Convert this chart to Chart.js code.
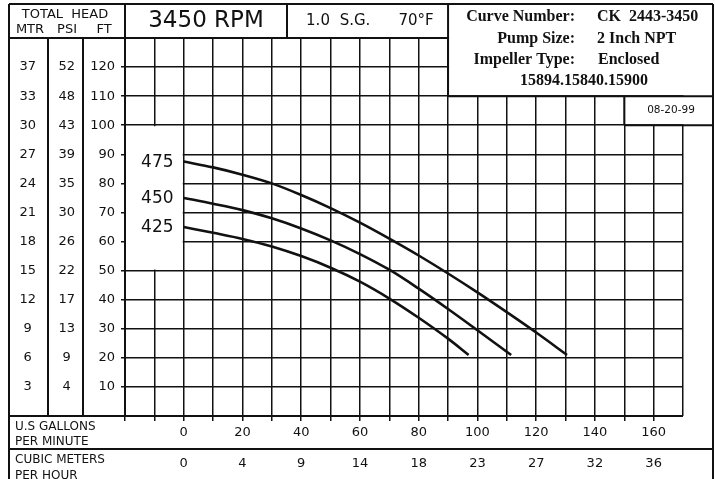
<!DOCTYPE html>
<html>
<head>
<meta charset="utf-8">
<script src="https://cdn.jsdelivr.net/npm/chart.js@4"></script>
<style>
  html, body { margin: 0; padding: 0; background: #fff; }
  #wrap { width: 715px; height: 479px; }
</style>
</head>
<body>
<div id="wrap"><canvas id="pump-canvas"></canvas></div>
<script>
// impeller curves, flow in US GPM and head in feet
const gpm475 = [0, 10, 20, 30, 40, 50, 60, 70, 80, 90, 100, 110, 120, 130.5];
const head475 = [87.5, 85.5, 83, 80, 76, 71.5, 66.5, 61, 55.2, 49, 42.5, 35.7, 28.7, 21];
const gpm450 = [0, 10, 20, 30, 40, 50, 60, 70, 80, 90, 100, 111.5];
const head450 = [75, 73, 70.8, 68, 64.5, 60.4, 55.7, 50.3, 43.8, 36.8, 29.5, 21];
const gpm425 = [0, 10, 20, 30, 40, 50, 60, 70, 80, 90, 97];
const head425 = [65, 63, 60.9, 58.3, 55, 51, 46.2, 40.4, 33.8, 26.6, 21];
const curveNames = ['475', '450', '425'];

// axis tick labels
const ftTicks = [10, 20, 30, 40, 50, 60, 70, 80, 90, 100, 110, 120];
const psiTicks = [4, 9, 13, 17, 22, 26, 30, 35, 39, 43, 48, 52];
const mtrTicks = [3, 6, 9, 12, 15, 18, 21, 24, 27, 30, 33, 37];
const gpmTicks = [0, 20, 40, 60, 80, 100, 120, 140, 160];
const m3hTicks = [0, 4, 9, 14, 18, 23, 27, 32, 36];

const INK = '#111';
Chart.defaults.font.family = 'DejaVu Sans';
Chart.defaults.color = INK;

function toPoints(xs, ys) {
    return xs.map((x, i) => ({ x: x, y: ys[i] }));
}

function curve(label, xs, ys) {
    return {
        label: label,
        data: toPoints(xs, ys),
        borderColor: INK,
        borderWidth: 2.6,
        pointRadius: 0,
        fill: false,
        cubicInterpolationMode: 'monotone',
        xAxisID: 'x',
        yAxisID: 'yFt'
    };
}

function line(ctx, x1, y1, x2, y2) {
    ctx.beginPath();
    ctx.moveTo(x1, y1);
    ctx.lineTo(x2, y2);
    ctx.stroke();
}

function headAxis(labels, width, weight, padding, withGrid) {
    return {
        type: 'linear',
        position: 'left',
        weight: weight,
        min: 0,
        max: 130,
        afterFit: s => { s.width = width; },
        border: { display: false },
        grid: withGrid
            ? { color: INK, lineWidth: 1.5, drawTicks: true, tickLength: 4, tickColor: INK, tickWidth: 1.5 }
            : { display: false, drawTicks: false },
        ticks: {
            stepSize: 10,
            autoSkip: false,
            padding: padding,
            crossAlign: withGrid ? 'near' : 'center',
            font: { size: 13 },
            callback: v => {
                const i = ftTicks.indexOf(v);
                return i < 0 ? '' : String(labels[i]);
            }
        }
    };
}

// frame, header and info boxes of the curve sheet
const sheetPlugin = {
    id: 'pumpSheet',
    beforeDatasetsDraw(chart) {
        const { ctx, scales: { x, yFt } } = chart;
        ctx.save();
        ctx.fillStyle = '#fff';
        // label box left of the 0 gpm line
        const bx0 = x.getPixelForValue(-20), bx1 = x.getPixelForValue(0);
        const by0 = yFt.getPixelForValue(100), by1 = yFt.getPixelForValue(50);
        ctx.fillRect(bx0 + 1, by0 + 1, bx1 - bx0 - 2, by1 - by0 - 2);
        // info box and date box
        const ix = x.getPixelForValue(90), iy = yFt.getPixelForValue(110);
        ctx.fillRect(ix + 1, 0, 715 - ix, iy - 1);
        const dx = x.getPixelForValue(150), dy = yFt.getPixelForValue(100);
        ctx.fillRect(dx + 1, iy, 715 - dx, dy - iy - 1);
        ctx.restore();
    },
    afterDraw(chart) {
        const { ctx, chartArea: ca, scales: { x, yFt } } = chart;
        const ix = x.getPixelForValue(90), iy = yFt.getPixelForValue(110);
        const dx = x.getPixelForValue(150), dy = yFt.getPixelForValue(100);
        const R = 713, L = 9, T = 4;
        const rowSplit = 449;

        ctx.save();
        ctx.strokeStyle = INK;
        ctx.lineWidth = 2;
        line(ctx, L, T, R, T);
        line(ctx, L, T, L, 479);
        line(ctx, R, T, R, 479);
        line(ctx, L, ca.top, ix, ca.top);
        line(ctx, ca.left, T, ca.left, ca.bottom);
        line(ctx, 287, T, 287, ca.top);
        line(ctx, ix, T, ix, iy);
        line(ctx, ix, iy, R, iy);
        line(ctx, dx, iy, dx, dy);
        line(ctx, dx, dy, R, dy);
        line(ctx, 48, ca.top, 48, ca.bottom);
        line(ctx, 83, ca.top, 83, ca.bottom);
        line(ctx, L, ca.bottom, ca.right, ca.bottom);
        line(ctx, L, rowSplit, R, rowSplit);

        ctx.fillStyle = INK;
        ctx.textAlign = 'center';
        ctx.textBaseline = 'middle';
        ctx.font = '13px "DejaVu Sans"';
        ctx.fillText('TOTAL  HEAD', 65, 14.5);
        ctx.fillText('MTR', 30, 30);
        ctx.fillText('PSI', 67, 30);
        ctx.fillText('FT', 104, 30);

        ctx.font = '23px "DejaVu Sans"';
        ctx.fillText('3450 RPM', 206, 21.5);
        ctx.font = '15px "DejaVu Sans"';
        ctx.fillText('1.0', 318, 21);
        ctx.fillText('S.G.', 355, 21);
        ctx.fillText('70°F', 416, 21);

        ctx.font = '10.5px "DejaVu Sans"';
        ctx.fillText('08-20-99', 671, 110);

        // impeller diameters next to each curve
        ctx.font = '17px "DejaVu Sans"';
        [head475, head450, head425].forEach((h, i) => {
            ctx.fillText(curveNames[i], x.getPixelForValue(-9), yFt.getPixelForValue(h[0]) + 1);
        });

        // flow rows
        ctx.textAlign = 'left';
        ctx.font = '12px "DejaVu Sans"';
        ctx.fillText('U.S GALLONS', 15, 427);
        ctx.fillText('PER MINUTE', 15, 442);
        ctx.fillText('CUBIC METERS', 15, 460);
        ctx.fillText('PER HOUR', 15, 476);

        // info block
        ctx.font = 'bold 16px "Liberation Serif"';
        ctx.textBaseline = 'alphabetic';
        ctx.textAlign = 'right';
        ctx.fillText('Curve Number:', 575, 21);
        ctx.fillText('Pump Size:', 575, 42.5);
        ctx.fillText('Impeller Type:', 575, 64);
        ctx.textAlign = 'left';
        ctx.fillText('CK  2443-3450', 597, 21);
        ctx.fillText('2 Inch NPT', 597, 42.5);
        ctx.fillText('Enclosed', 598, 64);
        ctx.textAlign = 'center';
        ctx.fillText('15894.15840.15900', 584, 84.5);
        ctx.restore();
    }
};

const ctx = document.getElementById('pump-canvas').getContext('2d');

new Chart(ctx, {
    type: 'line',
    data: {
        datasets: [
            curve('475', gpm475, head475),
            curve('450', gpm450, head450),
            curve('425', gpm425, head425)
        ]
    },
    options: {
        responsive: true,
        maintainAspectRatio: false,
        animation: false,
        layout: { padding: { left: 9, top: 38, right: 32, bottom: 0 } },
        plugins: {
            legend: { display: false },
            tooltip: { enabled: false }
        },
        scales: {
            x: {
                type: 'linear',
                position: 'bottom',
                weight: 0,
                min: -20,
                max: 170,
                afterFit: s => { s.height = 33; },
                border: { display: false },
                grid: {
                    color: INK,
                    lineWidth: 1.5,
                    drawTicks: true,
                    tickLength: 5,
                    tickWidth: 1.5,
                    tickColor: c => (c.tick && c.tick.value === 170) ? 'rgba(0,0,0,0)' : INK
                },
                ticks: {
                    stepSize: 10,
                    autoSkip: false,
                    maxRotation: 0,
                    minRotation: 0,
                    padding: 4,
                    font: { size: 13 },
                    callback: v => gpmTicks.includes(v) ? String(v) : ''
                }
            },
            xM3: {
                type: 'linear',
                position: 'bottom',
                weight: 1,
                min: -20,
                max: 170,
                afterFit: s => { s.height = 30; },
                border: { display: false },
                grid: { display: false, drawTicks: false },
                ticks: {
                    stepSize: 10,
                    autoSkip: false,
                    maxRotation: 0,
                    minRotation: 0,
                    padding: 7,
                    font: { size: 13 },
                    callback: v => {
                        const i = gpmTicks.indexOf(v);
                        return i < 0 ? '' : String(m3hTicks[i]);
                    }
                }
            },
            yFt: headAxis(ftTicks, 42, 0, 6, true),
            yPsi: headAxis(psiTicks, 35, 1, 8, false),
            yMtr: headAxis(mtrTicks, 39, 2, 12, false)
        }
    },
    plugins: [sheetPlugin]
});
</script>
</body>
</html>
